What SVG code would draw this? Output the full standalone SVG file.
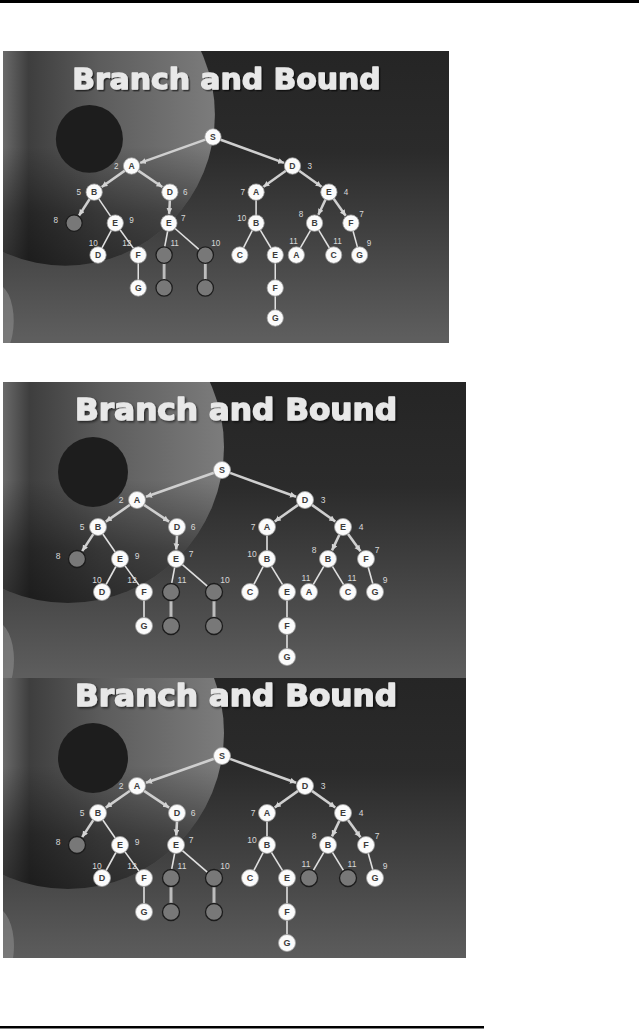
<svg xmlns="http://www.w3.org/2000/svg" width="639" height="1029" viewBox="0 0 639 1029">
<style>
.n circle{fill:#fbfbfb;stroke:#a0a0a0;stroke-width:.8}
.g circle{fill:#787878;stroke:#1c1c1c;stroke-width:1.3}
.n text{font-family:"Liberation Sans",Arial,sans-serif;font-weight:bold;font-size:9px;fill:#3a3a3a;text-anchor:middle}
text.c{font-family:"Liberation Sans",Arial,sans-serif;font-weight:normal;font-size:8.5px;fill:#d8d8d8;text-anchor:middle}
.e{stroke:#e0e0e0;stroke-width:1.6;fill:none}
.a{stroke:#cfcfcf;stroke-width:2.6;fill:none;marker-end:url(#arr)}
.v{stroke:#bdbdbd;stroke-width:3;fill:none}
.t{font-family:"DejaVu Sans",sans-serif;font-weight:bold;font-size:30px;fill:#e8e8e8;stroke:#e8e8e8;stroke-width:1.3;stroke-linejoin:round}
</style>
<defs>
<marker id="arr" markerUnits="userSpaceOnUse" markerWidth="7" markerHeight="7" refX="6" refY="3" orient="auto"><path d="M0,0 L6,3 L0,6 z" fill="#d4d4d4"/></marker>
<linearGradient id="bg" gradientUnits="userSpaceOnUse" x1="0" y1="382" x2="0" y2="678"><stop offset="0" stop-color="#252525"/><stop offset=".35" stop-color="#2b2b2b"/><stop offset=".7" stop-color="#464646"/><stop offset="1" stop-color="#5e5e5e"/></linearGradient>
<linearGradient id="disc" gradientUnits="userSpaceOnUse" x1="3" y1="0" x2="224" y2="0"><stop offset="0" stop-color="#6a6a6a"/><stop offset=".12" stop-color="#3e3e3e"/><stop offset=".45" stop-color="#5c5c5c"/><stop offset="1" stop-color="#7c7c7c"/></linearGradient>
<linearGradient id="shade" gradientUnits="userSpaceOnUse" x1="0" y1="480" x2="0" y2="605"><stop offset="0" stop-color="#000" stop-opacity="0"/><stop offset=".55" stop-color="#000" stop-opacity=".4"/><stop offset="1" stop-color="#000" stop-opacity=".55"/></linearGradient>
<filter id="sh" x="-5%" y="-20%" width="110%" height="150%"><feDropShadow dx="1.5" dy="1.5" stdDeviation=".8" flood-color="#000" flood-opacity=".6"/></filter>
<clipPath id="c1"><rect x="3" y="51" width="446" height="292"/></clipPath>
<clipPath id="c2"><rect x="3" y="382" width="463" height="296"/></clipPath>
<clipPath id="c3"><rect x="3" y="678" width="463" height="280"/></clipPath>
</defs>
<rect width="639" height="1029" fill="#fff"/>
<rect x="0" y="0" width="639" height="3" fill="#000"/>
<rect x="0" y="1026" width="484" height="2.5" fill="#000"/>

<!-- Slide 1 -->
<g id="slide1" clip-path="url(#c1)"><g transform="matrix(0.958,0,0,0.968,0.3,-318)">
<g id="s1-bg"><rect x="0" y="370" width="472" height="325" fill="url(#bg)"/><circle cx="68" cy="447" r="156" fill="url(#disc)"/><circle cx="68" cy="447" r="156" fill="url(#shade)"/><circle cx="93" cy="472" r="35" fill="#1d1d1d"/><ellipse cx="-4" cy="660" rx="18" ry="38" fill="#8c8c8c" opacity=".6"/></g>
<text class="t" x="75" y="420" textLength="322" lengthAdjust="spacingAndGlyphs" filter="url(#sh)">Branch and Bound</text>
<g id="s1-edges">
<line class="a" x1="214" y1="472.8" x2="146" y2="496.8"/><line class="a" x1="230" y1="472.9" x2="296.1" y2="496.8"/><line class="a" x1="130" y1="504.8" x2="105.8" y2="521.6"/><line class="a" x1="144" y1="504.8" x2="169.1" y2="521.7"/><line class="a" x1="298.1" y1="504.9" x2="274.7" y2="521.5"/><line class="a" x1="311.9" y1="504.9" x2="335.3" y2="521.5"/><line class="a" x1="93.3" y1="534.1" x2="82.2" y2="551.1"/><line class="e" x1="102.8" y1="534" x2="115.2" y2="552"/><line class="a" x1="177" y1="535.5" x2="176.2" y2="549.5"/><line class="e" x1="267" y1="535.5" x2="267" y2="550.5"/><line class="a" x1="339.4" y1="534.7" x2="332" y2="550.4"/><line class="a" x1="348" y1="533.9" x2="360.5" y2="551.3"/><line class="e" x1="115.9" y1="566.5" x2="106.1" y2="584.5"/><line class="e" x1="125" y1="565.9" x2="139" y2="585.1"/><line class="e" x1="174.7" y1="567.4" x2="171.6" y2="583.6"/><line class="e" x1="182.4" y1="564.6" x2="207.6" y2="586.4"/><line class="e" x1="263.1" y1="566.6" x2="253.9" y2="584.4"/><line class="e" x1="271.4" y1="566.3" x2="282.6" y2="584.7"/><line class="e" x1="323.8" y1="566.4" x2="313.2" y2="584.6"/><line class="e" x1="332.4" y1="566.3" x2="343.6" y2="584.7"/><line class="e" x1="368.2" y1="567.2" x2="372.8" y2="583.8"/><line class="e" x1="144" y1="600.5" x2="144" y2="617.5"/><line class="v" x1="171" y1="600.5" x2="171" y2="617.5"/><line class="v" x1="214" y1="600.5" x2="214" y2="617.5"/><line class="e" x1="287" y1="600.5" x2="287" y2="617.5"/><line class="e" x1="287" y1="634.5" x2="287" y2="648.5"/>
</g>
<g id="s1-S" class="n"><circle cx="222" cy="470" r="8.5"/><text x="222" y="473.2">S</text></g>
<g id="s1-A" class="n"><circle cx="137" cy="500" r="8.5"/><text x="137" y="503.2">A</text><text class="c" x="121" y="503">2</text></g>
<g id="s1-D" class="n"><circle cx="305" cy="500" r="8.5"/><text x="305" y="503.2">D</text><text class="c" x="323" y="503">3</text></g>
<g id="s1-AB" class="n"><circle cx="98" cy="527" r="8.5"/><text x="98" y="530.2">B</text><text class="c" x="82" y="530">5</text></g>
<g id="s1-AD" class="n"><circle cx="177" cy="527" r="8.5"/><text x="177" y="530.2">D</text><text class="c" x="193" y="530">6</text></g>
<g id="s1-DA" class="n"><circle cx="267" cy="527" r="8.5"/><text x="267" y="530.2">A</text><text class="c" x="253" y="530">7</text></g>
<g id="s1-DE" class="n"><circle cx="343" cy="527" r="8.5"/><text x="343" y="530.2">E</text><text class="c" x="361" y="530">4</text></g>
<g id="s1-ABC" class="g"><circle cx="77" cy="559" r="8.5"/><text class="c" x="58" y="559">8</text></g>
<g id="s1-ABE" class="n"><circle cx="120" cy="559" r="8.5"/><text x="120" y="562.2">E</text><text class="c" x="137" y="559">9</text></g>
<g id="s1-ADE" class="n"><circle cx="176" cy="559" r="8.5"/><text x="176" y="562.2">E</text><text class="c" x="191" y="557">7</text></g>
<g id="s1-DAB" class="n"><circle cx="267" cy="559" r="8.5"/><text x="267" y="562.2">B</text><text class="c" x="252" y="557">10</text></g>
<g id="s1-DEB" class="n"><circle cx="328" cy="559" r="8.5"/><text x="328" y="562.2">B</text><text class="c" x="314" y="553">8</text></g>
<g id="s1-DEF" class="n"><circle cx="366" cy="559" r="8.5"/><text x="366" y="562.2">F</text><text class="c" x="377" y="553">7</text></g>
<g id="s1-ABED" class="n"><circle cx="102" cy="592" r="8.5"/><text x="102" y="595.2">D</text><text class="c" x="97" y="583">10</text></g>
<g id="s1-ABEF" class="n"><circle cx="144" cy="592" r="8.5"/><text x="144" y="595.2">F</text><text class="c" x="132" y="583">12</text></g>
<g id="s1-ADEB" class="g"><circle cx="171" cy="592" r="8.5"/><text class="c" x="182" y="583">11</text></g>
<g id="s1-ADEF" class="g"><circle cx="214" cy="592" r="8.5"/><text class="c" x="225" y="583">10</text></g>
<g id="s1-DABC" class="n"><circle cx="250" cy="592" r="8.5"/><text x="250" y="595.2">C</text></g>
<g id="s1-DABE" class="n"><circle cx="287" cy="592" r="8.5"/><text x="287" y="595.2">E</text></g>
<g id="s1-DEBA" class="n"><circle cx="309" cy="592" r="8.5"/><text x="309" y="595.2">A</text><text class="c" x="306" y="581">11</text></g>
<g id="s1-DEBC" class="n"><circle cx="348" cy="592" r="8.5"/><text x="348" y="595.2">C</text><text class="c" x="352" y="581">11</text></g>
<g id="s1-DEFG" class="n"><circle cx="375" cy="592" r="8.5"/><text x="375" y="595.2">G</text><text class="c" x="385" y="583">9</text></g>
<g id="s1-ABEFG" class="n"><circle cx="144" cy="626" r="8.5"/><text x="144" y="629.2">G</text></g>
<g id="s1-ADEBx" class="g"><circle cx="171" cy="626" r="8.5"/></g>
<g id="s1-ADEFx" class="g"><circle cx="214" cy="626" r="8.5"/></g>
<g id="s1-DABEF" class="n"><circle cx="287" cy="626" r="8.5"/><text x="287" y="629.2">F</text></g>
<g id="s1-DABEFG" class="n"><circle cx="287" cy="657" r="8.5"/><text x="287" y="660.2">G</text></g>
</g></g>

<!-- Slide 2 -->
<g id="slide2" clip-path="url(#c2)"><g>
<g id="s2-bg"><rect x="0" y="370" width="472" height="325" fill="url(#bg)"/><circle cx="68" cy="447" r="156" fill="url(#disc)"/><circle cx="68" cy="447" r="156" fill="url(#shade)"/><circle cx="93" cy="472" r="35" fill="#1d1d1d"/><ellipse cx="-4" cy="660" rx="18" ry="38" fill="#8c8c8c" opacity=".6"/></g>
<text class="t" x="75" y="420" textLength="322" lengthAdjust="spacingAndGlyphs" filter="url(#sh)">Branch and Bound</text>
<g id="s2-edges">
<line class="a" x1="214" y1="472.8" x2="146" y2="496.8"/><line class="a" x1="230" y1="472.9" x2="296.1" y2="496.8"/><line class="a" x1="130" y1="504.8" x2="105.8" y2="521.6"/><line class="a" x1="144" y1="504.8" x2="169.1" y2="521.7"/><line class="a" x1="298.1" y1="504.9" x2="274.7" y2="521.5"/><line class="a" x1="311.9" y1="504.9" x2="335.3" y2="521.5"/><line class="a" x1="93.3" y1="534.1" x2="82.2" y2="551.1"/><line class="e" x1="102.8" y1="534" x2="115.2" y2="552"/><line class="a" x1="177" y1="535.5" x2="176.2" y2="549.5"/><line class="e" x1="267" y1="535.5" x2="267" y2="550.5"/><line class="a" x1="339.4" y1="534.7" x2="332" y2="550.4"/><line class="a" x1="348" y1="533.9" x2="360.5" y2="551.3"/><line class="e" x1="115.9" y1="566.5" x2="106.1" y2="584.5"/><line class="e" x1="125" y1="565.9" x2="139" y2="585.1"/><line class="e" x1="174.7" y1="567.4" x2="171.6" y2="583.6"/><line class="e" x1="182.4" y1="564.6" x2="207.6" y2="586.4"/><line class="e" x1="263.1" y1="566.6" x2="253.9" y2="584.4"/><line class="e" x1="271.4" y1="566.3" x2="282.6" y2="584.7"/><line class="e" x1="323.8" y1="566.4" x2="313.2" y2="584.6"/><line class="e" x1="332.4" y1="566.3" x2="343.6" y2="584.7"/><line class="e" x1="368.2" y1="567.2" x2="372.8" y2="583.8"/><line class="e" x1="144" y1="600.5" x2="144" y2="617.5"/><line class="v" x1="171" y1="600.5" x2="171" y2="617.5"/><line class="v" x1="214" y1="600.5" x2="214" y2="617.5"/><line class="e" x1="287" y1="600.5" x2="287" y2="617.5"/><line class="e" x1="287" y1="634.5" x2="287" y2="648.5"/>
</g>
<g id="s2-S" class="n"><circle cx="222" cy="470" r="8.5"/><text x="222" y="473.2">S</text></g>
<g id="s2-A" class="n"><circle cx="137" cy="500" r="8.5"/><text x="137" y="503.2">A</text><text class="c" x="121" y="503">2</text></g>
<g id="s2-D" class="n"><circle cx="305" cy="500" r="8.5"/><text x="305" y="503.2">D</text><text class="c" x="323" y="503">3</text></g>
<g id="s2-AB" class="n"><circle cx="98" cy="527" r="8.5"/><text x="98" y="530.2">B</text><text class="c" x="82" y="530">5</text></g>
<g id="s2-AD" class="n"><circle cx="177" cy="527" r="8.5"/><text x="177" y="530.2">D</text><text class="c" x="193" y="530">6</text></g>
<g id="s2-DA" class="n"><circle cx="267" cy="527" r="8.5"/><text x="267" y="530.2">A</text><text class="c" x="253" y="530">7</text></g>
<g id="s2-DE" class="n"><circle cx="343" cy="527" r="8.5"/><text x="343" y="530.2">E</text><text class="c" x="361" y="530">4</text></g>
<g id="s2-ABC" class="g"><circle cx="77" cy="559" r="8.5"/><text class="c" x="58" y="559">8</text></g>
<g id="s2-ABE" class="n"><circle cx="120" cy="559" r="8.5"/><text x="120" y="562.2">E</text><text class="c" x="137" y="559">9</text></g>
<g id="s2-ADE" class="n"><circle cx="176" cy="559" r="8.5"/><text x="176" y="562.2">E</text><text class="c" x="191" y="557">7</text></g>
<g id="s2-DAB" class="n"><circle cx="267" cy="559" r="8.5"/><text x="267" y="562.2">B</text><text class="c" x="252" y="557">10</text></g>
<g id="s2-DEB" class="n"><circle cx="328" cy="559" r="8.5"/><text x="328" y="562.2">B</text><text class="c" x="314" y="553">8</text></g>
<g id="s2-DEF" class="n"><circle cx="366" cy="559" r="8.5"/><text x="366" y="562.2">F</text><text class="c" x="377" y="553">7</text></g>
<g id="s2-ABED" class="n"><circle cx="102" cy="592" r="8.5"/><text x="102" y="595.2">D</text><text class="c" x="97" y="583">10</text></g>
<g id="s2-ABEF" class="n"><circle cx="144" cy="592" r="8.5"/><text x="144" y="595.2">F</text><text class="c" x="132" y="583">12</text></g>
<g id="s2-ADEB" class="g"><circle cx="171" cy="592" r="8.5"/><text class="c" x="182" y="583">11</text></g>
<g id="s2-ADEF" class="g"><circle cx="214" cy="592" r="8.5"/><text class="c" x="225" y="583">10</text></g>
<g id="s2-DABC" class="n"><circle cx="250" cy="592" r="8.5"/><text x="250" y="595.2">C</text></g>
<g id="s2-DABE" class="n"><circle cx="287" cy="592" r="8.5"/><text x="287" y="595.2">E</text></g>
<g id="s2-DEBA" class="n"><circle cx="309" cy="592" r="8.5"/><text x="309" y="595.2">A</text><text class="c" x="306" y="581">11</text></g>
<g id="s2-DEBC" class="n"><circle cx="348" cy="592" r="8.5"/><text x="348" y="595.2">C</text><text class="c" x="352" y="581">11</text></g>
<g id="s2-DEFG" class="n"><circle cx="375" cy="592" r="8.5"/><text x="375" y="595.2">G</text><text class="c" x="385" y="583">9</text></g>
<g id="s2-ABEFG" class="n"><circle cx="144" cy="626" r="8.5"/><text x="144" y="629.2">G</text></g>
<g id="s2-ADEBx" class="g"><circle cx="171" cy="626" r="8.5"/></g>
<g id="s2-ADEFx" class="g"><circle cx="214" cy="626" r="8.5"/></g>
<g id="s2-DABEF" class="n"><circle cx="287" cy="626" r="8.5"/><text x="287" y="629.2">F</text></g>
<g id="s2-DABEFG" class="n"><circle cx="287" cy="657" r="8.5"/><text x="287" y="660.2">G</text></g>
</g></g>

<!-- Slide 3 -->
<g id="slide3" clip-path="url(#c3)"><g transform="translate(0,286)">
<g id="s3-bg"><rect x="0" y="370" width="472" height="325" fill="url(#bg)"/><circle cx="68" cy="447" r="156" fill="url(#disc)"/><circle cx="68" cy="447" r="156" fill="url(#shade)"/><circle cx="93" cy="472" r="35" fill="#1d1d1d"/><ellipse cx="-4" cy="660" rx="18" ry="38" fill="#8c8c8c" opacity=".6"/></g>
<text class="t" x="75" y="420" textLength="322" lengthAdjust="spacingAndGlyphs" filter="url(#sh)">Branch and Bound</text>
<g id="s3-edges">
<line class="a" x1="214" y1="472.8" x2="146" y2="496.8"/><line class="a" x1="230" y1="472.9" x2="296.1" y2="496.8"/><line class="a" x1="130" y1="504.8" x2="105.8" y2="521.6"/><line class="a" x1="144" y1="504.8" x2="169.1" y2="521.7"/><line class="a" x1="298.1" y1="504.9" x2="274.7" y2="521.5"/><line class="a" x1="311.9" y1="504.9" x2="335.3" y2="521.5"/><line class="a" x1="93.3" y1="534.1" x2="82.2" y2="551.1"/><line class="e" x1="102.8" y1="534" x2="115.2" y2="552"/><line class="a" x1="177" y1="535.5" x2="176.2" y2="549.5"/><line class="e" x1="267" y1="535.5" x2="267" y2="550.5"/><line class="a" x1="339.4" y1="534.7" x2="332" y2="550.4"/><line class="a" x1="348" y1="533.9" x2="360.5" y2="551.3"/><line class="e" x1="115.9" y1="566.5" x2="106.1" y2="584.5"/><line class="e" x1="125" y1="565.9" x2="139" y2="585.1"/><line class="e" x1="174.7" y1="567.4" x2="171.6" y2="583.6"/><line class="e" x1="182.4" y1="564.6" x2="207.6" y2="586.4"/><line class="e" x1="263.1" y1="566.6" x2="253.9" y2="584.4"/><line class="e" x1="271.4" y1="566.3" x2="282.6" y2="584.7"/><line class="e" x1="323.8" y1="566.4" x2="313.2" y2="584.6"/><line class="e" x1="332.4" y1="566.3" x2="343.6" y2="584.7"/><line class="e" x1="368.2" y1="567.2" x2="372.8" y2="583.8"/><line class="e" x1="144" y1="600.5" x2="144" y2="617.5"/><line class="v" x1="171" y1="600.5" x2="171" y2="617.5"/><line class="v" x1="214" y1="600.5" x2="214" y2="617.5"/><line class="e" x1="287" y1="600.5" x2="287" y2="617.5"/><line class="e" x1="287" y1="634.5" x2="287" y2="648.5"/>
</g>
<g id="s3-S" class="n"><circle cx="222" cy="470" r="8.5"/><text x="222" y="473.2">S</text></g>
<g id="s3-A" class="n"><circle cx="137" cy="500" r="8.5"/><text x="137" y="503.2">A</text><text class="c" x="121" y="503">2</text></g>
<g id="s3-D" class="n"><circle cx="305" cy="500" r="8.5"/><text x="305" y="503.2">D</text><text class="c" x="323" y="503">3</text></g>
<g id="s3-AB" class="n"><circle cx="98" cy="527" r="8.5"/><text x="98" y="530.2">B</text><text class="c" x="82" y="530">5</text></g>
<g id="s3-AD" class="n"><circle cx="177" cy="527" r="8.5"/><text x="177" y="530.2">D</text><text class="c" x="193" y="530">6</text></g>
<g id="s3-DA" class="n"><circle cx="267" cy="527" r="8.5"/><text x="267" y="530.2">A</text><text class="c" x="253" y="530">7</text></g>
<g id="s3-DE" class="n"><circle cx="343" cy="527" r="8.5"/><text x="343" y="530.2">E</text><text class="c" x="361" y="530">4</text></g>
<g id="s3-ABC" class="g"><circle cx="77" cy="559" r="8.5"/><text class="c" x="58" y="559">8</text></g>
<g id="s3-ABE" class="n"><circle cx="120" cy="559" r="8.5"/><text x="120" y="562.2">E</text><text class="c" x="137" y="559">9</text></g>
<g id="s3-ADE" class="n"><circle cx="176" cy="559" r="8.5"/><text x="176" y="562.2">E</text><text class="c" x="191" y="557">7</text></g>
<g id="s3-DAB" class="n"><circle cx="267" cy="559" r="8.5"/><text x="267" y="562.2">B</text><text class="c" x="252" y="557">10</text></g>
<g id="s3-DEB" class="n"><circle cx="328" cy="559" r="8.5"/><text x="328" y="562.2">B</text><text class="c" x="314" y="553">8</text></g>
<g id="s3-DEF" class="n"><circle cx="366" cy="559" r="8.5"/><text x="366" y="562.2">F</text><text class="c" x="377" y="553">7</text></g>
<g id="s3-ABED" class="n"><circle cx="102" cy="592" r="8.5"/><text x="102" y="595.2">D</text><text class="c" x="97" y="583">10</text></g>
<g id="s3-ABEF" class="n"><circle cx="144" cy="592" r="8.5"/><text x="144" y="595.2">F</text><text class="c" x="132" y="583">12</text></g>
<g id="s3-ADEB" class="g"><circle cx="171" cy="592" r="8.5"/><text class="c" x="182" y="583">11</text></g>
<g id="s3-ADEF" class="g"><circle cx="214" cy="592" r="8.5"/><text class="c" x="225" y="583">10</text></g>
<g id="s3-DABC" class="n"><circle cx="250" cy="592" r="8.5"/><text x="250" y="595.2">C</text></g>
<g id="s3-DABE" class="n"><circle cx="287" cy="592" r="8.5"/><text x="287" y="595.2">E</text></g>
<g id="s3-DEBA" class="g"><circle cx="309" cy="592" r="8.5"/><text class="c" x="306" y="581">11</text></g>
<g id="s3-DEBC" class="g"><circle cx="348" cy="592" r="8.5"/><text class="c" x="352" y="581">11</text></g>
<g id="s3-DEFG" class="n"><circle cx="375" cy="592" r="8.5"/><text x="375" y="595.2">G</text><text class="c" x="385" y="583">9</text></g>
<g id="s3-ABEFG" class="n"><circle cx="144" cy="626" r="8.5"/><text x="144" y="629.2">G</text></g>
<g id="s3-ADEBx" class="g"><circle cx="171" cy="626" r="8.5"/></g>
<g id="s3-ADEFx" class="g"><circle cx="214" cy="626" r="8.5"/></g>
<g id="s3-DABEF" class="n"><circle cx="287" cy="626" r="8.5"/><text x="287" y="629.2">F</text></g>
<g id="s3-DABEFG" class="n"><circle cx="287" cy="657" r="8.5"/><text x="287" y="660.2">G</text></g>
</g></g>
</svg>
